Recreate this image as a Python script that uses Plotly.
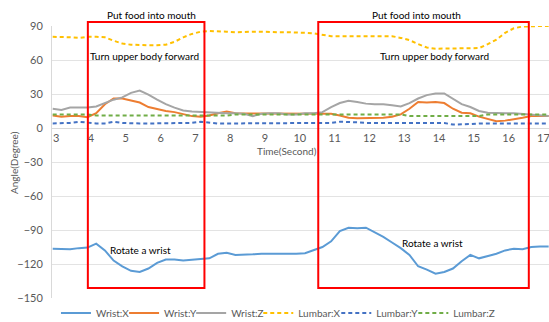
import plotly.graph_objects as go

time_s = [2.9, 3.15, 3.4, 3.65, 3.9, 4.15, 4.4, 4.65, 4.9, 5.15, 5.4, 5.65, 5.9, 6.15, 6.4, 6.65,
          6.9, 7.15, 7.4, 7.65, 7.9, 8.15, 8.4, 8.65, 8.9, 9.15, 9.4, 9.65, 9.9, 10.15, 10.4, 10.65,
          10.9, 11.15, 11.4, 11.65, 11.9, 12.15, 12.4, 12.65, 12.9, 13.15, 13.4, 13.65, 13.9, 14.15,
          14.4, 14.65, 14.9, 15.15, 15.4, 15.65, 15.9, 16.15, 16.4, 16.65, 16.9, 17.15]

wrist_x = [-106.5, -107, -107, -106, -105.5, -102, -108, -117, -122, -126, -127, -124, -119, -116,
           -116, -117, -116.5, -116, -115, -111, -110, -112, -112, -111.5, -111, -111, -111, -111.5,
           -111, -110.5, -108, -105, -100, -91, -88, -88.5, -88, -92, -96, -101, -106, -112, -122,
           -125, -128.5, -127, -124, -117.5, -112, -115, -113, -111, -108, -106.5, -107, -105,
           -104.5, -104.5]

wrist_y = [11, 10, 10.5, 10.5, 9.5, 13, 21, 26, 26, 24.5, 22.5, 18.5, 16.5, 15, 14, 12.5, 10.5,
           10, 11, 13, 14.5, 13, 13, 13, 13, 13, 13, 13, 13, 13, 13, 13, 12.5, 11, 9, 8.5, 8.5,
           8.5, 9, 10, 12, 17, 23, 22.5, 23, 22, 17, 13.5, 13, 10, 8, 6, 6.5, 7.5, 9, 10.5, 10.5,
           10.5]

wrist_z = [17, 16, 18, 18, 18, 19, 22, 25, 27, 31, 33, 29.5, 25, 21, 18, 15.5, 14.5, 14, 13.5,
           13, 13, 13, 12.5, 10.5, 12.5, 13, 13, 12, 12, 13, 13, 14, 18.5, 22, 24, 23, 21.5, 21,
           21, 20, 19, 22, 26, 29, 30.5, 30.5, 26, 21, 18.5, 15, 13.5, 13, 13, 13, 12.5, 12, 11,
           10.5]

lumbar_x = [80.5, 80.5, 80, 79.5, 80.5, 80.5, 80, 77, 74.5, 73.5, 73, 73, 73, 73.5, 76, 80, 83,
            85, 85.5, 85.5, 85, 84.5, 85, 85, 85, 84.5, 84.5, 84.5, 84.5, 84, 83.5, 82, 81, 81,
            81, 81, 81, 81, 81, 81, 79.5, 77.5, 74, 71, 70, 70, 70, 70, 70, 70.5, 74, 78, 84, 88,
            89.5, 90, 90, 90]

lumbar_y = [4, 4, 4.5, 5.5, 4.5, 4, 4, 5.5, 4.5, 4, 4, 4, 4, 4, 4, 4, 4.5, 5.5, 4.5, 4, 4, 4, 4,
            4, 4, 4, 4, 4, 4, 4, 4, 4, 4.5, 5.5, 5.5, 5, 4.5, 4.5, 4.5, 4.5, 4.5, 4.5, 4.5, 4.5,
            4.5, 4.5, 3, 3, 3.5, 4, 4, 4, 4, 4, 4, 4, 4, 4]

lumbar_z = [12, 12, 12, 12, 12, 11, 11, 11, 11, 11, 11, 11, 11, 11, 11, 11, 11, 11, 11, 11, 11,
            12, 12, 12, 12, 12, 12, 12, 12, 12, 12, 12, 12, 12, 12, 12, 12, 12, 12, 12, 12, 10.5,
            10.5, 10.5, 10.5, 10.5, 10.5, 10.5, 10.5, 10.5, 12, 12, 12, 12, 12, 12, 12, 12]

series = [
    ("Wrist:X", wrist_x, "#5B9BD5", "solid"),
    ("Wrist:Y", wrist_y, "#ED7D31", "solid"),
    ("Wrist:Z", wrist_z, "#A5A5A5", "solid"),
    ("Lumbar:X", lumbar_x, "#FFC000", "4px,3px"),
    ("Lumbar:Y", lumbar_y, "#4472C4", "4px,3px"),
    ("Lumbar:Z", lumbar_z, "#70AD47", "4px,3px"),
]

FONT = "Lato"
GRAY = "#595959"

# left edge of each legend entry (paper fraction of the plot width)
legend_x = [0.008, 0.145, 0.280, 0.415, 0.572, 0.727]

fig = go.Figure()
legend_layouts = {}
for i, (name, vals, color, dash) in enumerate(series):
    key = "legend" if i == 0 else f"legend{i + 1}"
    fig.add_trace(go.Scatter(x=time_s, y=vals, name=name, mode="lines", legend=key,
                             line=dict(color=color, width=2, dash=dash)))
    legend_layouts[key] = dict(x=legend_x[i], xanchor="left", y=-0.055, yanchor="middle",
                               orientation="h", bgcolor="rgba(0,0,0,0)",
                               font=dict(family=FONT, size=10, color=GRAY))

# red boxes (x in seconds, y in paper fraction)
boxes = [(3.91, 7.26), (10.53, 16.58)]
for x0, x1 in boxes:
    fig.add_shape(type="rect", xref="x", yref="paper", x0=x0, x1=x1, y0=0.037, y1=1.015,
                  line=dict(color="#FF0000", width=2), fillcolor="rgba(0,0,0,0)")

notes = [
    ("Put food into mouth", 5.745, 1.04, "paper"),
    ("Put food into mouth", 13.367, 1.04, "paper"),
    ("Turn upper body forward", 5.545, 63.3, "y"),
    ("Turn upper body forward", 13.883, 63.3, "y"),
    ("Rotate a wrist", 5.43, -107.3, "y"),
    ("Rotate a wrist", 13.826, -101.1, "y"),
]
for text, x, y, yref in notes:
    fig.add_annotation(text=text, x=x, y=y, xref="x", yref=yref, showarrow=False,
                       xanchor="center", yanchor="middle",
                       font=dict(family=FONT, size=10, color="#000000"))

fig.add_annotation(text="Time(Second)", x=9.64, y=-20.2, xref="x", yref="y", showarrow=False,
                   xanchor="center", yanchor="middle",
                   font=dict(family=FONT, size=10, color=GRAY))
fig.add_annotation(text="Angle(Degree)", x=-0.0765, y=0.5, xref="paper", yref="paper",
                   xanchor="center", yanchor="middle",
                   textangle=-90, showarrow=False, font=dict(family=FONT, size=10, color=GRAY))

fig.update_layout(
    width=549, height=322,
    margin=dict(l=52, r=0, t=26, b=24, autoexpand=False),
    paper_bgcolor="white", plot_bgcolor="white",
    font=dict(family=FONT, size=11, color=GRAY),
    showlegend=True,
    xaxis=dict(range=[2.88, 17.16], tick0=3, dtick=1, showgrid=False, zeroline=False,
               anchor="free", position=0.625, showline=True, linecolor="#D9D9D9", linewidth=1,
               ticks="", ticklabeloverflow="allow",
               tickfont=dict(family=FONT, size=11, color=GRAY)),
    yaxis=dict(range=[-150, 90], tick0=0, dtick=30, showgrid=True, gridcolor="#E3E3E3",
               zeroline=False, showline=True, linecolor="#D9D9D9", linewidth=1, ticks="",
               ticklabelstandoff=6, tickfont=dict(family=FONT, size=11, color=GRAY)),
    **legend_layouts,
)

fig.write_html("out.html")
